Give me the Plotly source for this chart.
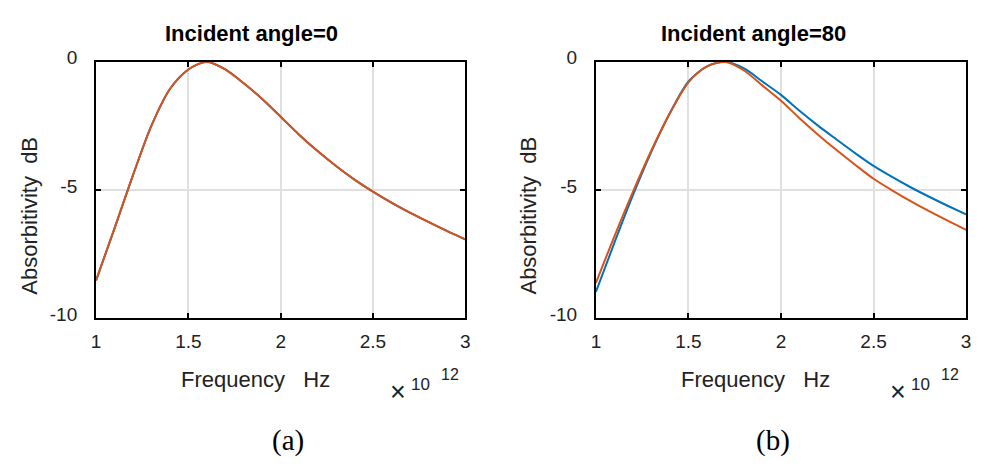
import plotly.graph_objects as go

# Frequency axis (in units of 1e12 Hz)
freq = [1.0, 1.1, 1.2, 1.3, 1.4, 1.5, 1.6, 1.7, 1.8, 1.9, 2.0,
        2.1, 2.2, 2.3, 2.4, 2.5, 2.6, 2.7, 2.8, 2.9, 3.0]

# Incident angle = 0 : both polarisations coincide
a0_blue = [-8.52, -6.49, -4.42, -2.49, -1.06, -0.30, 0.00, -0.30, -0.84, -1.45, -2.14,
           -2.84, -3.48, -4.06, -4.59, -5.06, -5.49, -5.88, -6.24, -6.59, -6.92]
a0_orange = [-8.52, -6.49, -4.42, -2.49, -1.06, -0.30, 0.00, -0.30, -0.84, -1.45, -2.14,
             -2.84, -3.48, -4.06, -4.59, -5.06, -5.49, -5.88, -6.24, -6.59, -6.92]

# Incident angle = 80
a80_blue = [-8.97, -7.05, -5.20, -3.50, -2.00, -0.77, -0.18, 0.00, -0.26, -0.77, -1.29,
            -1.91, -2.49, -3.03, -3.56, -4.06, -4.49, -4.89, -5.26, -5.61, -5.95]
a80_orange = [-8.62, -6.80, -5.07, -3.45, -2.00, -0.80, -0.18, -0.01, -0.34, -0.93, -1.52,
              -2.20, -2.84, -3.44, -4.01, -4.56, -5.01, -5.43, -5.82, -6.19, -6.55]

x_ticks = [1, 1.5, 2, 2.5, 3]
x_tick_text = ["1", "1.5", "2", "2.5", "3"]
y_ticks = [-10, -5, 0]
y_tick_text = ["-10", "-5", "0"]

titles = ["Incident angle=0", "Incident angle=80"]
captions = ["(a)", "(b)"]

BLUE = "#0072BD"
ORANGE = "#D95319"
W, H = 981, 468

fig = go.Figure()

panels = [(a0_blue, a0_orange, "x", "y"), (a80_blue, a80_orange, "x2", "y2")]
for blue, orange, xa, ya in panels:
    for vals, col in ((blue, BLUE), (orange, ORANGE)):
        fig.add_trace(go.Scatter(
            x=freq, y=vals, xaxis=xa, yaxis=ya, mode="lines",
            line=dict(color=col, width=2, shape="spline", smoothing=0.8),
            showlegend=False, hoverinfo="skip"))

axis_common = dict(
    showline=True, linecolor="black", linewidth=2, mirror="ticks",
    ticks="inside", ticklen=5, tickwidth=2, tickcolor="black",
    showgrid=True, gridcolor="#e0e0e0", gridwidth=1.5, zeroline=False,
    tickfont=dict(family="Liberation Sans, Arial", size=19, color="#222"),
)

def px_x(p):
    return p / W

def px_y(p):
    return 1 - p / H

y_dom = [px_y(318.7), px_y(50)]
x_doms = [[px_x(92), px_x(465)], [px_x(597), px_x(971)]]

fig.update_layout(
    width=W, height=H, margin=dict(l=0, r=0, t=0, b=0),
    paper_bgcolor="white", plot_bgcolor="white",
    xaxis=dict(domain=x_doms[0], anchor="y", range=[1, 3],
               tickvals=x_ticks, ticktext=x_tick_text, ticklabelstandoff=5, **axis_common),
    yaxis=dict(domain=y_dom, anchor="x", range=[-10, 0],
               tickvals=y_ticks, ticktext=y_tick_text, ticklabelstandoff=13,
               ticklabelshift=-4, **axis_common),
    xaxis2=dict(domain=x_doms[1], anchor="y2", range=[1, 3],
                tickvals=x_ticks, ticktext=x_tick_text, ticklabelstandoff=5, **axis_common),
    yaxis2=dict(domain=y_dom, anchor="x2", range=[-10, 0],
                tickvals=y_ticks, ticktext=y_tick_text, ticklabelstandoff=13,
                ticklabelshift=-4, **axis_common),
)

sans = "Liberation Sans, Arial"
annots = []
for i, off in enumerate([0, 505]):
    # panel title
    annots.append(dict(text="<b>%s</b>" % titles[i], x=px_x(249.5 + off + (2 if i else 0)),
                       y=px_y(20), font=dict(family=sans, size=22, color="black")))
    # axis titles
    annots.append(dict(text="Frequency\u00a0\u00a0\u00a0Hz", x=px_x(253 + off), y=px_y(383),
                       font=dict(family=sans, size=22, color="#222")))
    annots.append(dict(text="Absorbitivity\u00a0\u00a0dB", x=px_x(24.4 + off), y=px_y(211),
                       textangle=-90, font=dict(family=sans, size=22, color="#222")))
    # exponent marker
    annots.append(dict(text="\u00d7", x=px_x(397.5 + off), y=px_y(396),
                       font=dict(family=sans, size=27, color="#222")))
    annots.append(dict(text="10", x=px_x(420 + off), y=px_y(387.5),
                       font=dict(family=sans, size=17, color="#222")))
    annots.append(dict(text="12", x=px_x(449.5 + off), y=px_y(377),
                       font=dict(family=sans, size=16, color="#222")))
    # sub-caption
    annots.append(dict(text=captions[i], x=px_x(286 + off * 0.97), y=px_y(447),
                       font=dict(family="Liberation Serif, Times New Roman", size=29, color="black")))

for a in annots:
    a.update(xref="paper", yref="paper", showarrow=False, xanchor="center", yanchor="middle")
fig.update_layout(annotations=annots)

fig.write_html("out.html")
